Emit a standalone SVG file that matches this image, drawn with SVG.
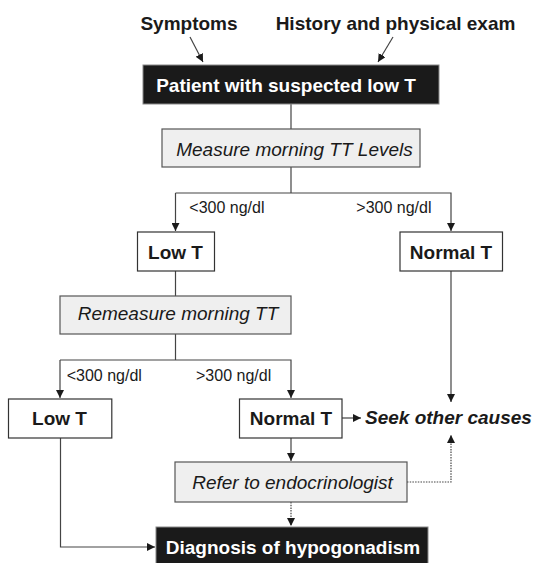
<svg xmlns="http://www.w3.org/2000/svg" width="536" height="563" viewBox="0 0 536 563">
<style>
text{font-family:"Liberation Sans",Arial,sans-serif;fill:#1a1a1a}
.b{font-weight:bold;font-size:19px}
.w{fill:#fff}
.i{font-style:italic;font-size:19px}
.l{font-size:16px}
.dark{fill:#1a1a1a;stroke:#888;stroke-width:1}
.grey{fill:#efefef;stroke:#555;stroke-width:1.2}
.white{fill:#fff;stroke:#333;stroke-width:1.2}
.c{fill:none;stroke:#444;stroke-width:1.2}
.d{fill:none;stroke:#444;stroke-width:1.2;stroke-dasharray:1.5 1.2}
</style>
<defs>
<marker id="ah" viewBox="0 0 10 10" refX="10" refY="5" markerWidth="8" markerHeight="8" markerUnits="userSpaceOnUse" orient="auto">
<path d="M0,0L10,5L0,10z" fill="#1a1a1a"/>
</marker>
</defs>
<g id="connectors">
<line class="c" x1="190" y1="37" x2="203" y2="62" marker-end="url(#ah)"/>
<line class="c" x1="393" y1="37" x2="378" y2="62" marker-end="url(#ah)"/>
<line class="c" x1="291" y1="104" x2="291" y2="129"/>
<line class="c" x1="291" y1="167" x2="291" y2="193"/>
<polyline class="c" points="175.5,193 451,193 451,231" marker-end="url(#ah)"/>
<line class="c" x1="175.5" y1="193" x2="175.5" y2="231" marker-end="url(#ah)"/>
<line class="c" x1="175.5" y1="271" x2="175.5" y2="296"/>
<line class="c" x1="175.5" y1="334" x2="175.5" y2="360"/>
<polyline class="c" points="60,360 291,360 291,398" marker-end="url(#ah)"/>
<line class="c" x1="60" y1="360" x2="60" y2="398" marker-end="url(#ah)"/>
<line class="c" x1="451" y1="271" x2="451" y2="402" marker-end="url(#ah)"/>
<line class="c" x1="342" y1="418" x2="361" y2="418" marker-end="url(#ah)"/>
<line class="c" x1="291" y1="438" x2="291" y2="461" marker-end="url(#ah)"/>
<polyline class="d" points="407,482 451,482 451,435" marker-end="url(#ah)"/>
<line class="d" x1="291" y1="502" x2="291" y2="526" marker-end="url(#ah)"/>
<polyline class="c" points="60.5,438 60.5,547 155,547" marker-end="url(#ah)"/>
</g>
<g id="symptoms"><text class="b" x="189" y="29.5" text-anchor="middle">Symptoms</text></g>
<g id="history"><text class="b" x="395.5" y="29.5" text-anchor="middle">History and physical exam</text></g>
<g id="patient"><rect class="dark" x="143" y="65" width="296" height="39"/><text class="b w" x="286" y="91.7" text-anchor="middle">Patient with suspected low T</text></g>
<g id="measure"><rect class="grey" x="162" y="129" width="258" height="38"/><text class="i" x="294.5" y="156" text-anchor="middle">Measure morning TT Levels</text></g>
<g id="lab1"><text class="l" x="189.3" y="213">&lt;300 ng/dl</text><text class="l" x="356.3" y="213">&gt;300 ng/dl</text></g>
<g id="lowt1"><rect class="white" x="137.5" y="232" width="77" height="39"/><text class="b" x="175.5" y="259" text-anchor="middle">Low T</text></g>
<g id="normalt1"><rect class="white" x="400" y="232" width="102.5" height="39"/><text class="b" x="451" y="259" text-anchor="middle">Normal T</text></g>
<g id="remeasure"><rect class="grey" x="60" y="296" width="231" height="38"/><text class="i" x="178" y="319.5" text-anchor="middle">Remeasure morning TT</text></g>
<g id="lab2"><text class="l" x="66.7" y="381">&lt;300 ng/dl</text><text class="l" x="196" y="381">&gt;300 ng/dl</text></g>
<g id="lowt2"><rect class="white" x="8.5" y="399" width="103.3" height="39"/><text class="b" x="59.5" y="425" text-anchor="middle">Low T</text></g>
<g id="normalt2"><rect class="white" x="239.5" y="399" width="102.5" height="39"/><text class="b" x="291" y="425" text-anchor="middle">Normal T</text></g>
<g id="seek"><text class="b" x="365" y="424" font-style="italic" font-size="20.2">Seek other causes</text></g>
<g id="refer"><rect class="grey" x="175" y="462" width="232" height="40"/><text class="i" x="292.5" y="488.5" text-anchor="middle">Refer to endocrinologist</text></g>
<g id="diagnosis"><rect class="dark" x="156" y="527" width="272" height="37"/><text class="b w" x="293" y="554" text-anchor="middle" font-size="19.4">Diagnosis of hypogonadism</text></g>
</svg>
